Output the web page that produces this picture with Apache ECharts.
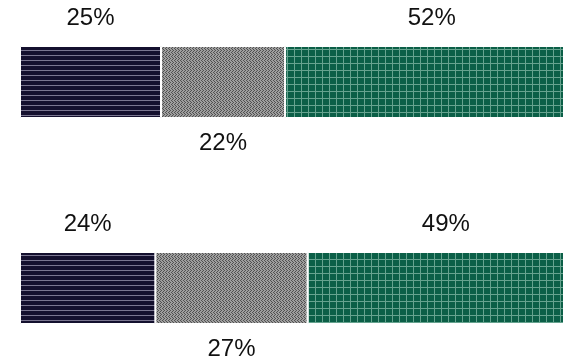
<!DOCTYPE html>
<html>
<head>
<meta charset="utf-8">
<script src="https://cdn.jsdelivr.net/npm/echarts@6/dist/echarts.min.js"></script>
<style>
  html, body { margin: 0; padding: 0; background: #ffffff; }
  #chart { width: 563px; height: 364px; }
</style>
</head>
<body>
<div id="chart"></div>
<script>
// Two 100% stacked rows, three shares each
const categories = ['Group 1', 'Group 2'];
const shareFirst = [25, 24];
const shareSecond = [22, 27];
const shareThird = [52, 49];

// Tiled fills for each segment
function makeTile(w, h, draw) {
  const c = document.createElement('canvas');
  c.width = w; c.height = h;
  const ctx = c.getContext('2d');
  draw(ctx);
  return c;
}

const stripeTile = makeTile(4, 5, ctx => {
  ctx.fillStyle = '#14102e';
  ctx.fillRect(0, 0, 4, 5);
  ctx.fillStyle = '#7a7690';
  ctx.fillRect(0, 0, 4, 1);
});

const zigzagTile = makeTile(6, 4, ctx => {
  const rows = [
    'DLLDLL',
    'LDLLDL',
    'LLDLLD',
    'LDLLDL'
  ];
  rows.forEach((r, y) => {
    for (let x = 0; x < r.length; x++) {
      ctx.fillStyle = r[x] === 'D' ? '#505050' : '#9e9e9e';
      ctx.fillRect(x, y, 1, 1);
    }
  });
});

const gridTile = makeTile(7, 7, ctx => {
  ctx.fillStyle = '#0b5f47';
  ctx.fillRect(0, 0, 7, 7);
  ctx.fillStyle = '#66a38f';
  ctx.fillRect(0, 0, 7, 1);
  ctx.fillRect(0, 0, 1, 7);
});

const labelFont = {
  color: '#111111',
  fontSize: 24,
  fontFamily: 'Liberation Sans, Arial, sans-serif',
  formatter: '{c}%'
};

function segment(name, data, tile, pos, dist) {
  return {
    name: name,
    type: 'bar',
    stack: 'total',
    barWidth: 72,
    data: data,
    itemStyle: {
      color: { image: tile, repeat: 'repeat' },
      borderColor: '#ffffff',
      borderWidth: 1
    },
    label: Object.assign({ show: true, position: pos, distance: dist }, labelFont),
    emphasis: { disabled: true }
  };
}

const chart = echarts.init(document.getElementById('chart'), null, { renderer: 'canvas' });
chart.setOption({
  animation: false,
  backgroundColor: '#ffffff',
  grid: {
    left: 20, top: -21, width: 564, height: 412,
    containLabel: false,
    outerBoundsMode: 'none'
  },
  xAxis: {
    type: 'value',
    min: 0,
    max: 100,
    show: false
  },
  yAxis: {
    type: 'category',
    data: categories,
    inverse: true,
    show: false
  },
  series: [
    segment('First', shareFirst, stripeTile, 'top', 16),
    segment('Second', shareSecond, zigzagTile, 'bottom', 13),
    segment('Third', shareThird, gridTile, 'top', 16)
  ]
});
</script>
</body>
</html>
